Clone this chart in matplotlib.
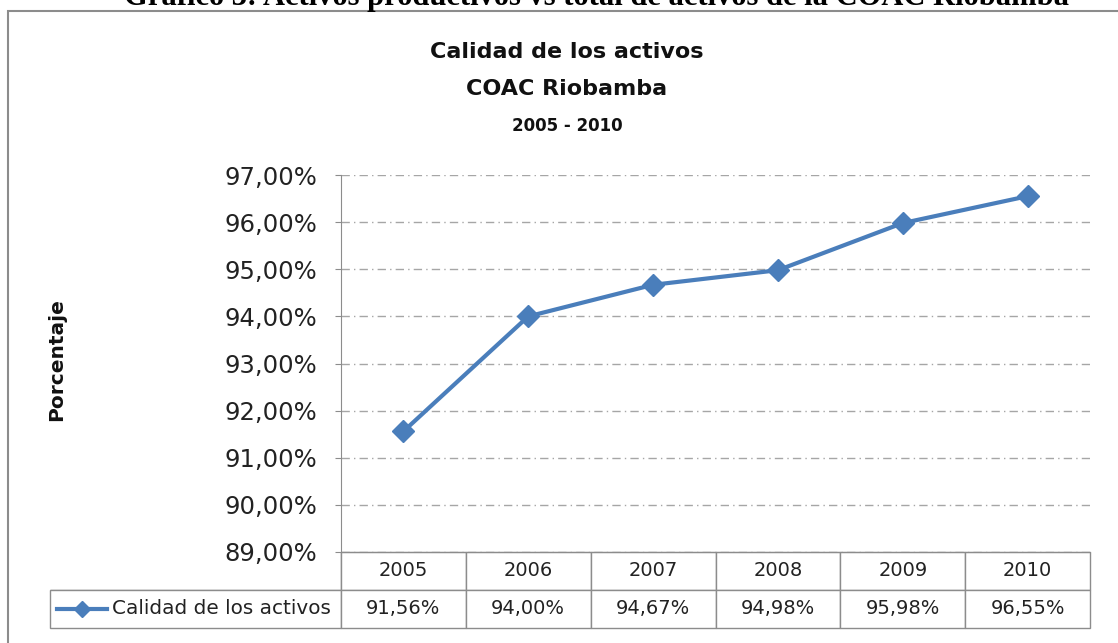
import matplotlib
matplotlib.use('Agg')
import matplotlib.pyplot as plt
from matplotlib.lines import Line2D
from matplotlib.patches import Rectangle

# data
years = ['2005', '2006', '2007', '2008', '2009', '2010']
calidad = [91.56, 94.00, 94.67, 94.98, 95.98, 96.55]
serie = 'Calidad de los activos'
y_ticks = [89, 90, 91, 92, 93, 94, 95, 96, 97]
caption = 'Gráfico 3: Activos productivos vs total de activos de la COAC Riobamba'


def pct(v):
    return f'{v:.2f}%'.replace('.', ',')


plt.rcParams['font.family'] = 'DejaVu Sans'
W, H = 1118, 643
fig = plt.figure(figsize=(W / 100, H / 100), dpi=100)


def fx(px):
    return px / W


def fy(py):
    return 1 - py / H


blue = '#4a7ebb'
edge = '#8c8c8c'
txt = '#222222'

ax = fig.add_axes([fx(341), fy(552), fx(1090) - fx(341), fy(175) - fy(552)])
x = range(len(years))
ax.plot(x, calidad, color=blue, lw=3, marker='D', ms=11, zorder=3)
ax.set_xlim(-0.5, len(years) - 0.5)
ax.set_ylim(89, 97)
ax.set_yticks(y_ticks)
ax.set_yticklabels([pct(v) for v in y_ticks], fontsize=17.5, color=txt)
ax.set_xticks([])
ax.grid(axis='y', color='#a6a6a6', ls=(0, (6, 3, 1, 3)), lw=1)
for s in ['top', 'right']:
    ax.spines[s].set_visible(False)
ax.spines['left'].set_color(edge)
ax.spines['bottom'].set_color(edge)
ax.tick_params(axis='y', length=4, color=edge, pad=13)

# data table under the axis
lw_frac = 291 / 749
cell_text = [[''] + years, [''] + [pct(v) for v in calidad]]
tbl = ax.table(cellText=cell_text, colWidths=[lw_frac] + [1 / 6] * 6,
               cellLoc='center', bbox=[-lw_frac, -76 / 377, 1 + lw_frac, 76 / 377])
tbl.auto_set_font_size(False)
tbl.set_fontsize(14)
for (r, c), cell in tbl.get_celld().items():
    cell.set_edgecolor(edge)
    cell.set_linewidth(1)
    cell.get_text().set_color(txt)
tbl[0, 0].visible_edges = 'BR'

# legend key in the table
fig.add_artist(Line2D([fx(57), fx(107)], [fy(609), fy(609)], transform=fig.transFigure,
                      color=blue, lw=3))
fig.add_artist(Line2D([fx(82)], [fy(609)], transform=fig.transFigure,
                      color=blue, marker='D', ms=8))
fig.text(fx(112), fy(609), serie, fontsize=14.4, va='center', color=txt)

# titles
fig.text(fx(567), fy(52), 'Calidad de los activos', ha='center', va='center',
         fontsize=16, weight='bold', color='#111111')
fig.text(fx(567), fy(89), 'COAC Riobamba', ha='center', va='center',
         fontsize=16, weight='bold', color='#111111')
fig.text(fx(567), fy(126), '2005 - 2010', ha='center', va='center',
         fontsize=12, weight='bold', color='#111111')
fig.text(fx(57), fy(360), 'Porcentaje', rotation=90, ha='center', va='center',
         fontsize=14.5, weight='bold', color='#111111')

# caption cut off at the top
fig.text(fx(596), fy(5), caption, ha='center', va='baseline', fontsize=22,
         weight='bold', family='Liberation Serif')

# chart frame
fig.add_artist(Rectangle((fx(8), -0.1), 1.0, fy(11) + 0.1, transform=fig.transFigure,
                         fill=False, ec=edge, lw=1.5))

fig.savefig('out.png', dpi=100)
